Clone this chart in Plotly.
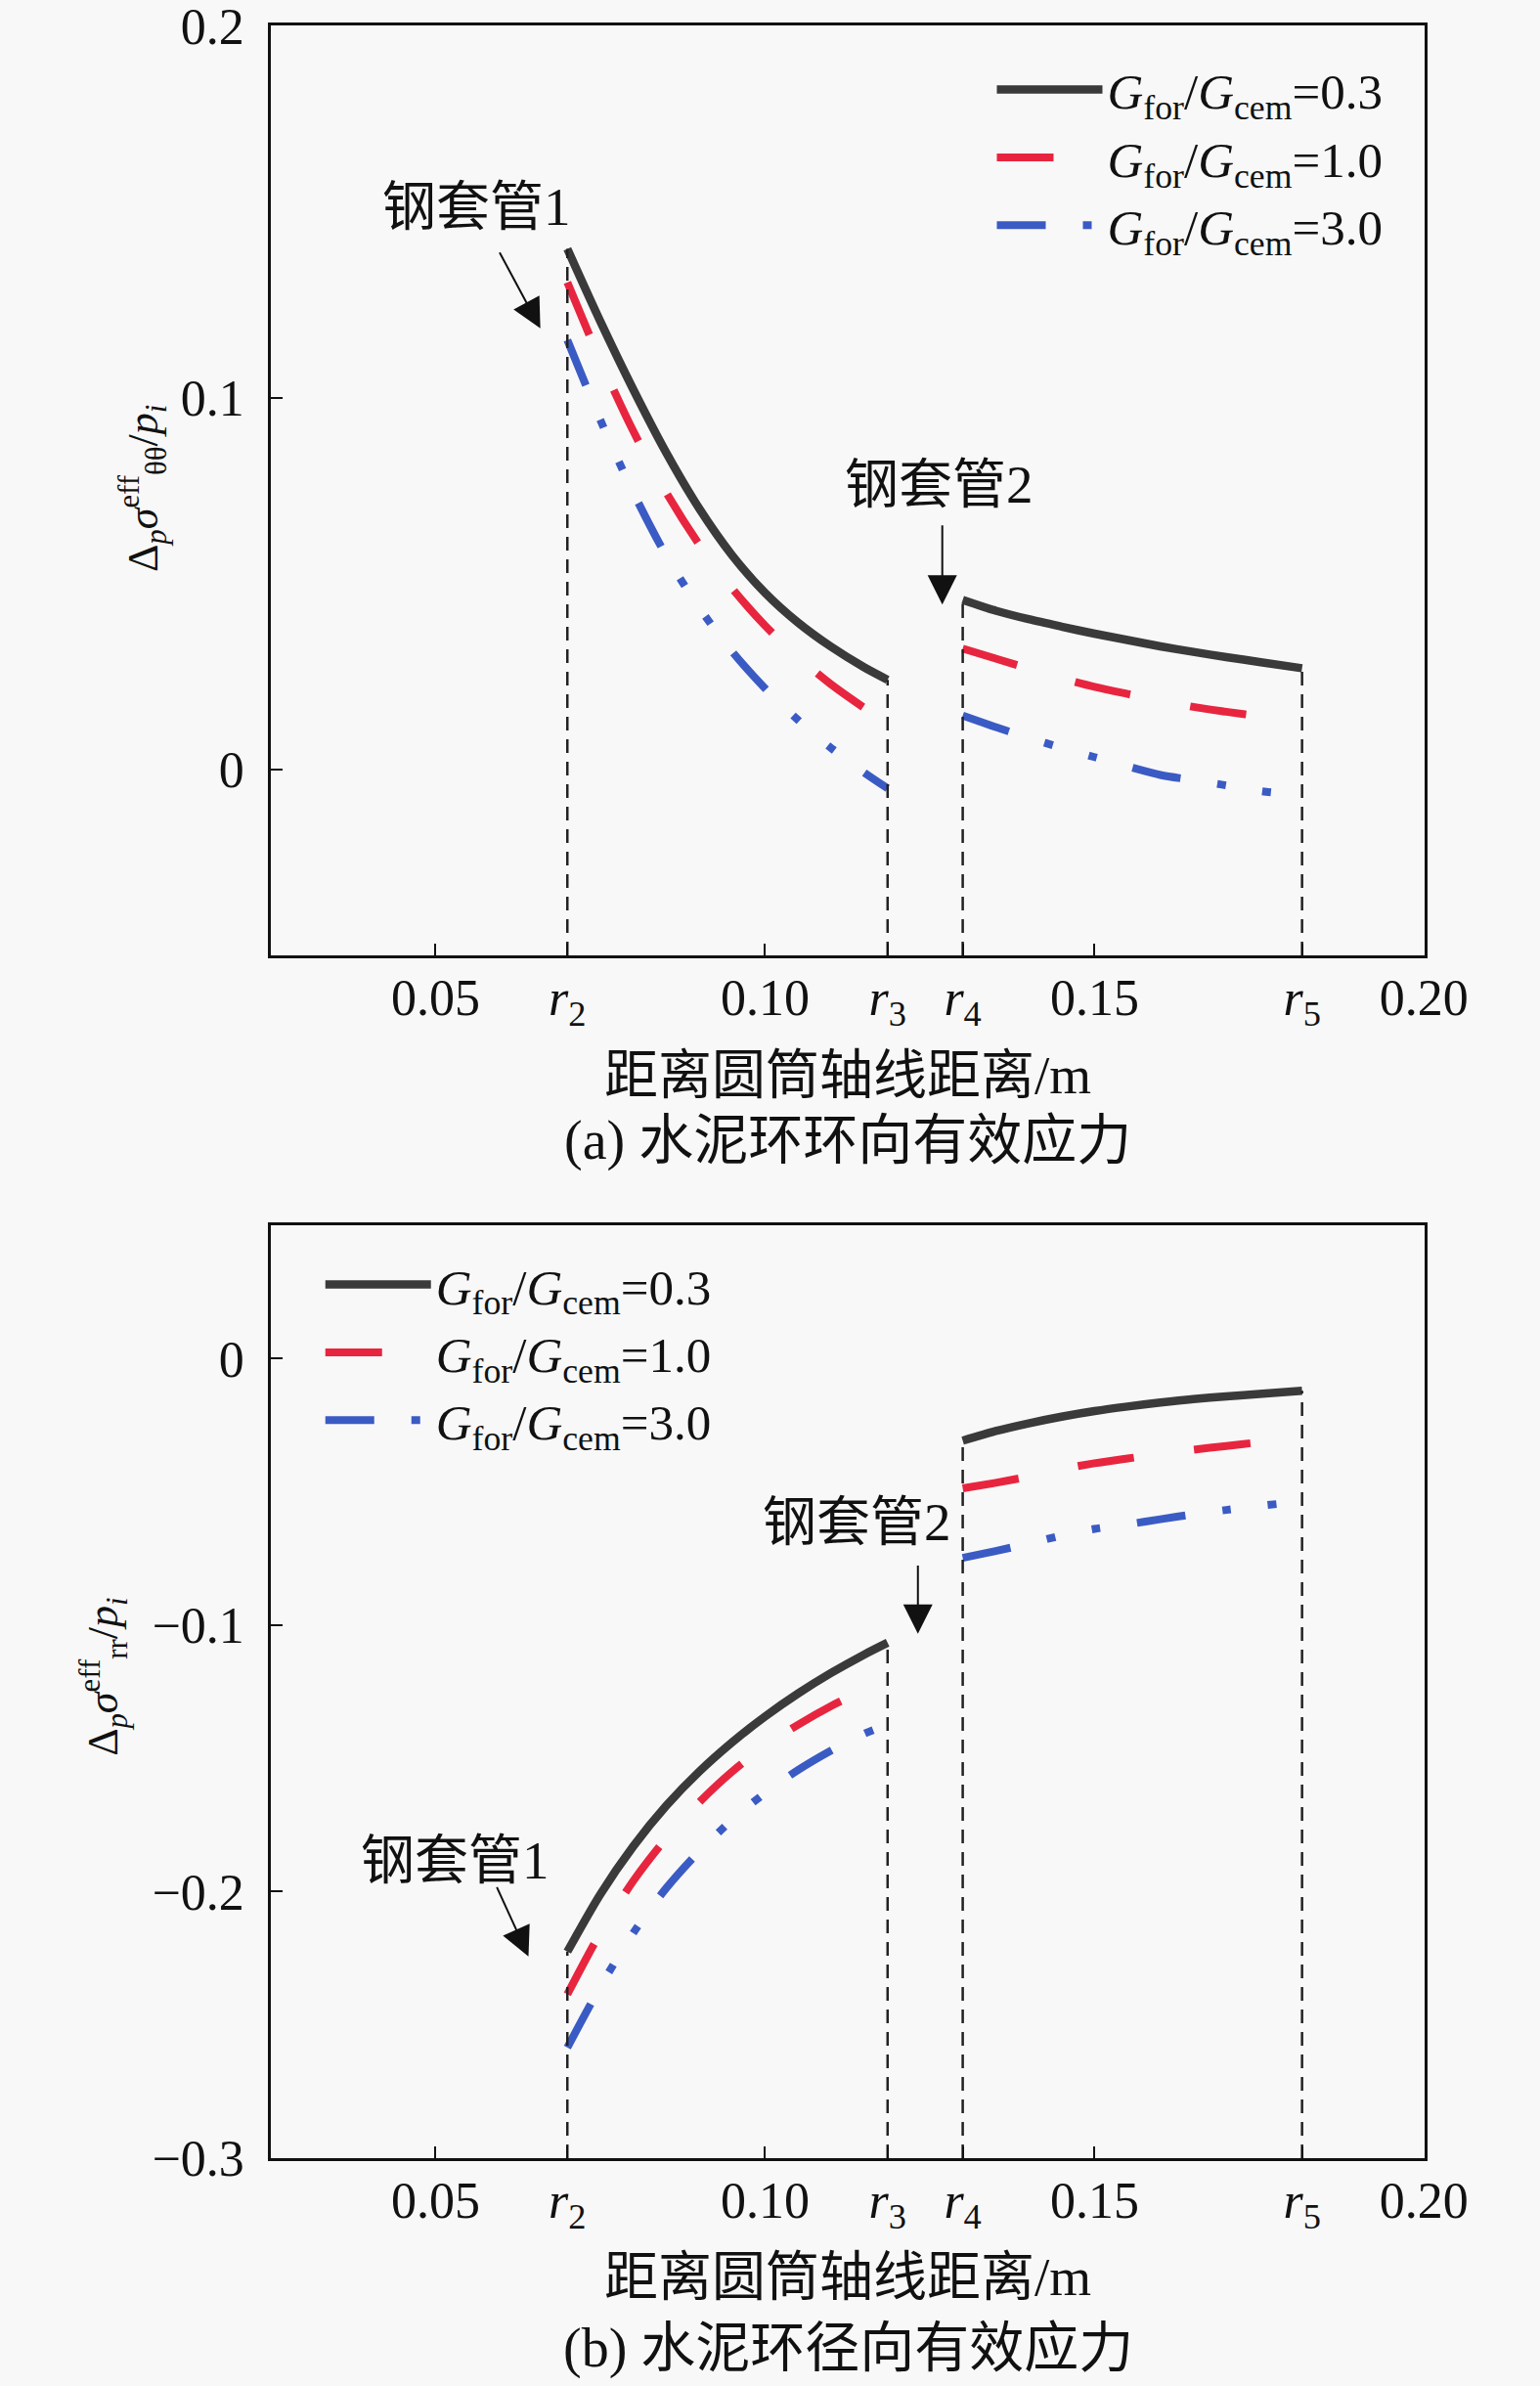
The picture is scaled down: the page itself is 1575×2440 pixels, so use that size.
import plotly.graph_objects as go

# boundary radii r2, r3, r4, r5 (m)
R_POS = [0.07, 0.1186, 0.13, 0.1815]
R_TEXT = ["<i>r</i><sub>2</sub>", "<i>r</i><sub>3</sub>", "<i>r</i><sub>4</sub>", "<i>r</i><sub>5</sub>"]
NUM_TICKS = [0.05, 0.10, 0.15, 0.20]
NUM_TEXT = ["0.05", "0.10", "0.15", "0.20"]

# radial positions (m) for the inner and outer cement segments
X_LEFT = [0.07, 0.075, 0.08, 0.085, 0.09, 0.095, 0.10, 0.105, 0.11, 0.115, 0.1186]
X_RIGHT = [0.13, 0.135, 0.14, 0.145, 0.15, 0.155, 0.16, 0.165, 0.17, 0.175, 0.1815]

RATIOS = ["0.3", "1.0", "3.0"]

# (a) hoop effective stress
HOOP_03_L = [0.1400, 0.1205, 0.1022, 0.0852, 0.0702, 0.0576, 0.0475, 0.0395, 0.0330, 0.0275, 0.0241]
HOOP_03_R = [0.0456, 0.0427, 0.0404, 0.0384, 0.0365, 0.0348, 0.0331, 0.0316, 0.0302, 0.0289, 0.0272]
HOOP_10_L = [0.1310, 0.1100, 0.0910, 0.0745, 0.0605, 0.0487, 0.0387, 0.0302, 0.0229, 0.0166, 0.0123]
HOOP_10_R = [0.0325, 0.0298, 0.0271, 0.0245, 0.0222, 0.0203, 0.0185, 0.0168, 0.0155, 0.0143, 0.0128]
HOOP_30_L = [0.1155, 0.0940, 0.0745, 0.0575, 0.0435, 0.0317, 0.0218, 0.0133, 0.0058, -0.0008, -0.0051]
HOOP_30_R = [0.0145, 0.0114, 0.0085, 0.0058, 0.0033, 0.0008, -0.0015, -0.0029, -0.0043, -0.0058, -0.0070]

# (b) radial effective stress
RAD_03_L = [-0.2225, -0.2010, -0.1830, -0.1678, -0.1550, -0.1440, -0.1343, -0.1257, -0.1180, -0.1111, -0.1066]
RAD_03_R = [-0.0308, -0.0272, -0.0243, -0.0218, -0.0197, -0.0180, -0.0165, -0.0152, -0.0142, -0.0133, -0.0121]
RAD_10_L = [-0.2385, -0.2155, -0.1960, -0.1800, -0.1665, -0.1550, -0.1454, -0.1374, -0.1304, -0.1244, -0.1205]
RAD_10_R = [-0.0487, -0.0466, -0.0443, -0.0415, -0.0393, -0.0375, -0.0358, -0.0342, -0.0328, -0.0314, -0.0298]
RAD_30_L = [-0.2585, -0.2357, -0.2155, -0.1987, -0.1849, -0.1731, -0.1630, -0.1544, -0.1471, -0.1408, -0.1373]
RAD_30_R = [-0.0748, -0.0722, -0.0694, -0.0664, -0.0639, -0.0622, -0.0603, -0.0584, -0.0568, -0.0553, -0.0536]

FONT = "Liberation Serif, Noto Sans CJK SC, serif"
INK = "#111111"
BG = "#f8f8f8"
STYLES = [
    dict(color="#3a3a3a", width=8.5, dash="solid"),
    dict(color="#e8253f", width=8, dash="58px,62px"),
    dict(color="#3b5bc4", width=8, dash="50px,38px,9px,38px,9px,38px"),
]

fig = go.Figure()


def add_panel(series, xa, ya, legend_name, ymin):
    for ratio, (left, right), style in zip(RATIOS, series, STYLES):
        fig.add_trace(go.Scatter(
            x=X_LEFT + [None] + X_RIGHT, y=left + [None] + right,
            mode="lines", line=dict(shape="spline", smoothing=0.8, **style),
            name=f"<i>G</i><sub>for</sub>/<i>G</i><sub>cem</sub>={ratio}",
            xaxis=xa, yaxis=ya, legend=legend_name, hoverinfo="skip",
        ))
    # dashed casing boundaries, up to the solid curve ends
    black_l, black_r = series[0]
    tops = [black_l[0], black_l[-1], black_r[0], black_r[-1]]
    for r, top in zip(R_POS, tops):
        fig.add_trace(go.Scatter(
            x=[r, r], y=[ymin, top], mode="lines",
            line=dict(color="#222222", width=2.5, dash="14px,9px"),
            xaxis=xa, yaxis=ya, showlegend=False, hoverinfo="skip",
        ))


add_panel([(HOOP_03_L, HOOP_03_R), (HOOP_10_L, HOOP_10_R), (HOOP_30_L, HOOP_30_R)],
          "x", "y", "legend", -0.05)
add_panel([(RAD_03_L, RAD_03_R), (RAD_10_L, RAD_10_R), (RAD_30_L, RAD_30_R)],
          "x2", "y2", "legend2", -0.3)

axis_common = dict(
    showline=True, linecolor=INK, linewidth=2.5, mirror=True,
    showgrid=False, zeroline=False, automargin=False,
    ticks="inside", ticklen=12, tickwidth=2, tickcolor=INK,
    tickfont=dict(family=FONT, size=52, color=INK),
    ticklabeloverflow="allow",
)
xaxis_common = dict(
    range=[0.025, 0.2001], tickvals=NUM_TICKS + R_POS, ticktext=NUM_TEXT + R_TEXT,
    ticklabelstandoff=-4, **axis_common,
)

annotations = []


def note(text, x, y, xref, yref, size=52, **kw):
    annotations.append(dict(text=text, x=x, y=y, xref=xref, yref=yref, showarrow=False,
                            xanchor="center", yanchor="middle",
                            font=dict(family=FONT, size=size, color=INK), **kw))


def arrow(x, y, ax, ay, xr, yr):
    annotations.append(dict(text="", x=x, y=y, ax=ax, ay=ay, xref=xr, yref=yr,
                            axref=xr, ayref=yr, showarrow=True, arrowhead=2,
                            arrowsize=3, arrowwidth=2, arrowcolor=INK, standoff=0))


# panel (a)
note("钢套管1", 0.0562, 0.1513, "x", "y", size=55)
arrow(0.0659, 0.1186, 0.0596, 0.1394, "x", "y")
note("钢套管2", 0.1264, 0.0765, "x", "y", size=55)
arrow(0.1269, 0.0443, 0.1269, 0.0660, "x", "y")
note("距离圆筒轴线距离/m", 0.5, 0.508, "paper", "paper", size=55)
note("(a) 水泥环环向有效应力", 0.5, 0.4773, "paper", "paper", size=56)
note("Δ<sub><i>p</i></sub><i>σ</i><sup>eff</sup><sub>θθ</sub>/<i>p</i><sub><i>i</i></sub>",
     -0.111, 0.7827, "paper", "paper", size=44, textangle=-90)

# panel (b)
note("钢套管2", 0.1140, -0.0615, "x2", "y2", size=55)
arrow(0.1232, -0.1033, 0.1232, -0.0771, "x2", "y2")
note("钢套管1", 0.0529, -0.1884, "x2", "y2", size=55)
arrow(0.0641, -0.2243, 0.0592, -0.1978, "x2", "y2")
note("距离圆筒轴线距离/m", 0.5, -0.0555, "paper", "paper", size=55)
note("(b) 水泥环径向有效应力", 0.5, -0.0894, "paper", "paper", size=56)
note("Δ<sub><i>p</i></sub><i>σ</i><sup>eff</sup><sub>rr</sub>/<i>p</i><sub><i>i</i></sub>",
     -0.145, 0.2256, "paper", "paper", size=44, textangle=-90)

legend_common = dict(
    bgcolor="rgba(0,0,0,0)", borderwidth=0, itemwidth=108,
    font=dict(family=FONT, size=51, color=INK),
    xanchor="left", yanchor="top", tracegroupgap=0,
)

fig.update_layout(
    width=1575, height=2440,
    margin=dict(l=277, r=118, t=26, b=233, autoexpand=False),
    paper_bgcolor=BG, plot_bgcolor=BG,
    font=dict(family=FONT, color=INK),
    xaxis=dict(domain=[0, 1], anchor="y", **xaxis_common),
    yaxis=dict(domain=[0.564, 1], anchor="x", range=[-0.05, 0.2001],
               tickvals=[0, 0.1, 0.2], ticktext=["0", "0.1", "0.2"],
               ticklabelstandoff=14, **axis_common),
    xaxis2=dict(domain=[0, 1], anchor="y2", **xaxis_common),
    yaxis2=dict(domain=[0, 0.4374], anchor="x2", range=[-0.3, 0.05],
                tickvals=[-0.3, -0.2, -0.1, 0], ticktext=["−0.3", "−0.2", "−0.1", "0"],
                ticklabelstandoff=14, **axis_common),
    legend=dict(x=0.625, y=0.9881, **legend_common),
    legend2=dict(x=0.043, y=0.4278, **legend_common),
    annotations=annotations,
    showlegend=True,
)

fig.write_html("out.html", config={"displayModeBar": False},
               post_script="document.body.style.margin='0';")
